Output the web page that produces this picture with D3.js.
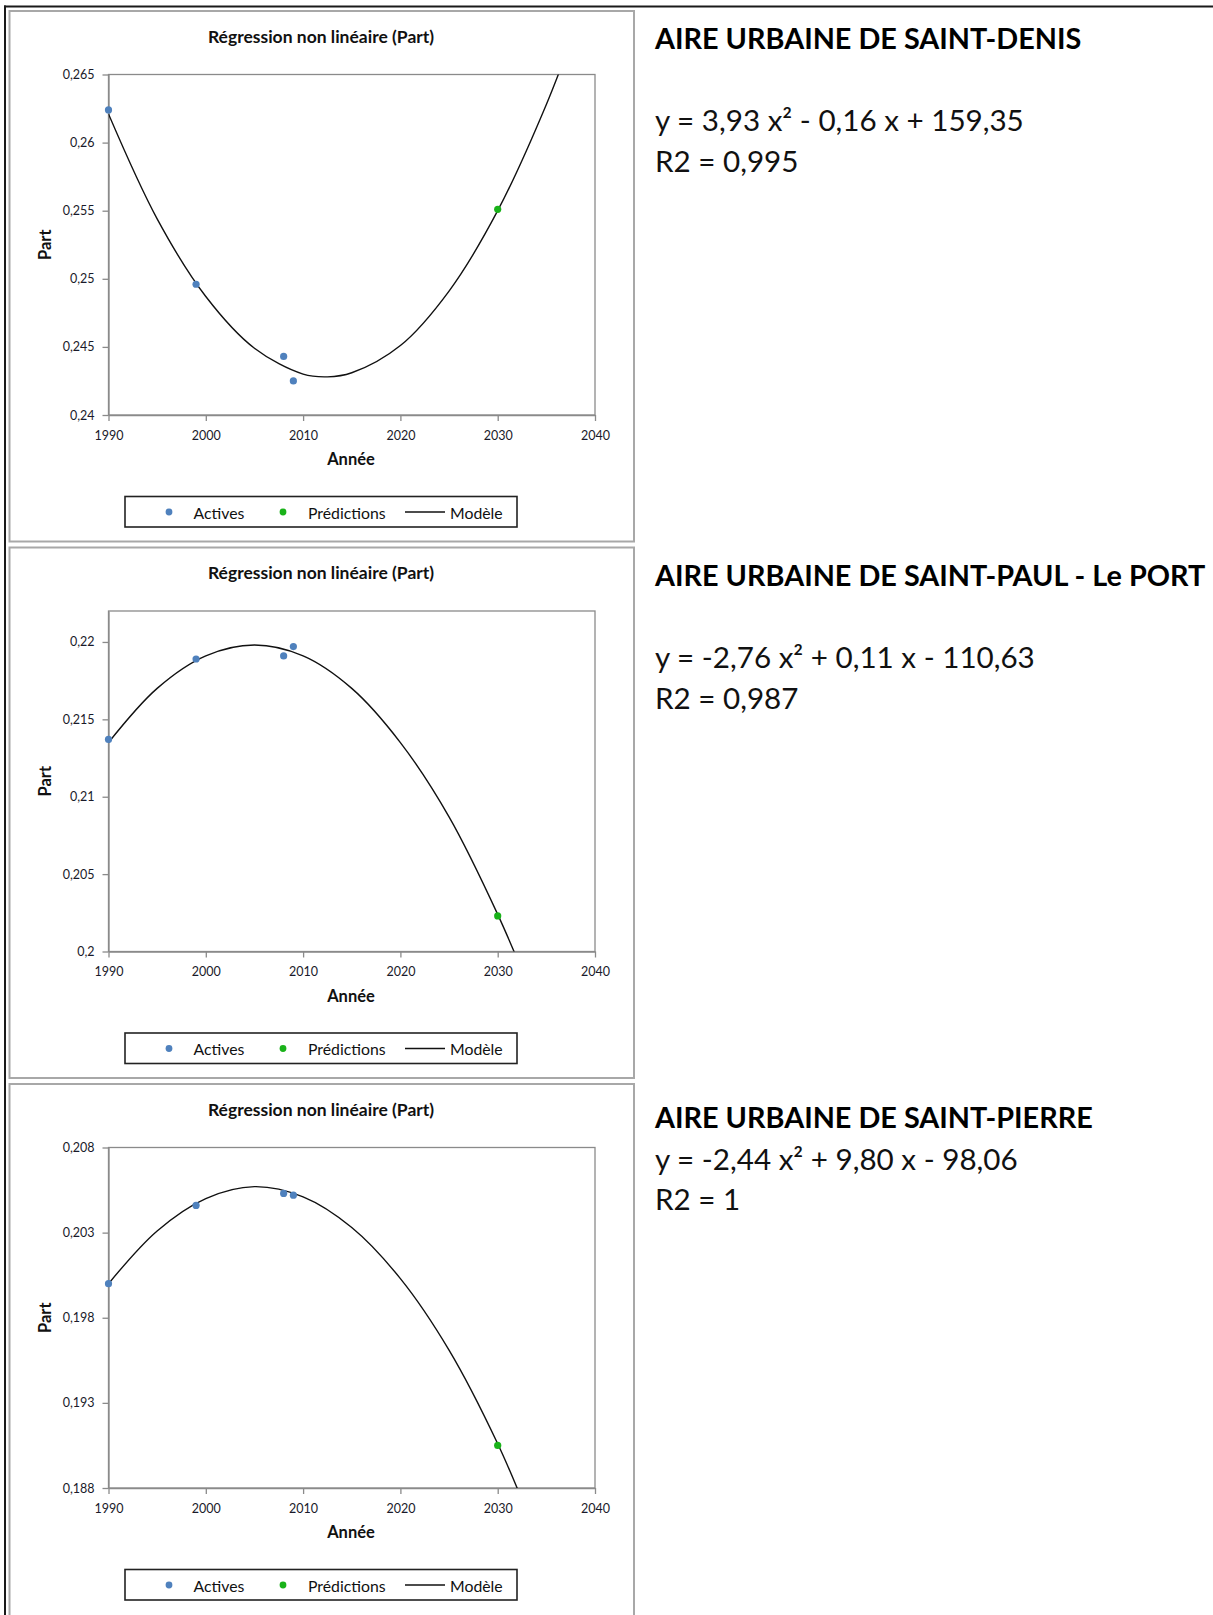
<!DOCTYPE html>
<html>
<head>
<meta charset="utf-8">
<script src="https://cdn.jsdelivr.net/npm/d3@7"></script>
<style>
  html, body { margin: 0; padding: 0; background: #fff; }
  svg { display: block; }
  text { font-family: Lato, "Open Sans", sans-serif; }
</style>
</head>
<body>
<svg id="chart" width="1213" height="1615"></svg>
<script>
// ---------- DATA ----------
const activeYears = [1990, 1999, 2008, 2009];
const predYears = [2030];
const xTickValues = [1990, 2000, 2010, 2020, 2030, 2040];
const xTickLabels = ["1990", "2000", "2010", "2020", "2030", "2040"];

// Saint-Denis
const denisActives = [0.2624, 0.2496, 0.2443, 0.2425];
const denisPred = [0.2551];
const denisModelYears = [1990, 1995, 2000, 2005, 2010, 2012.5, 2015, 2020, 2025, 2030, 2035, 2038];
const denisModel = [0.2621, 0.2544, 0.2487, 0.2449, 0.2430, 0.2428, 0.2431, 0.2451, 0.2491, 0.2550, 0.2628, 0.2684];
const denisYTicks = [0.24, 0.245, 0.25, 0.255, 0.26, 0.265];
const denisYLabels = ["0,24", "0,245", "0,25", "0,255", "0,26", "0,265"];
const denisYDomain = [0.24, 0.265];

// Saint-Paul - Le Port
const paulActives = [0.2137, 0.2189, 0.2191, 0.2197];
const paulPred = [0.2023];
const paulModelYears = [1990, 1995, 2000, 2005, 2010, 2015, 2020, 2025, 2030, 2033];
const paulModel = [0.2135, 0.2170, 0.2191, 0.2198, 0.2191, 0.2170, 0.2135, 0.2087, 0.2024, 0.1980];
const paulYTicks = [0.2, 0.205, 0.21, 0.215, 0.22];
const paulYLabels = ["0,2", "0,205", "0,21", "0,215", "0,22"];
const paulYDomain = [0.2, 0.222];

// Saint-Pierre
const pierreActives = [0.2000, 0.2046, 0.2053, 0.2052];
const pierrePred = [0.1905];
const pierreModelYears = [1990, 1995, 2000, 2005, 2010, 2015, 2020, 2025, 2030, 2033];
const pierreModel = [0.2000, 0.2031, 0.2050, 0.2057, 0.2051, 0.2033, 0.2003, 0.1961, 0.1906, 0.1866];
const pierreYTicks = [0.188, 0.193, 0.198, 0.203, 0.208];
const pierreYLabels = ["0,188", "0,193", "0,198", "0,203", "0,208"];
const pierreYDomain = [0.188, 0.208];

const chartTitle = "Régression non linéaire (Part)";
const xAxisTitle = "Année";
const yAxisTitle = "Part";
const legendLabels = ["Actives", "Prédictions", "Modèle"];

const areaTitles = ["AIRE URBAINE DE SAINT-DENIS", "AIRE URBAINE DE SAINT-PAUL - Le PORT", "AIRE URBAINE DE SAINT-PIERRE"];
const equations = ["y = 3,93 x² - 0,16 x + 159,35", "y = -2,76 x² + 0,11 x - 110,63", "y = -2,44 x² + 9,80 x - 98,06"];
const r2Texts = ["R2 = 0,995", "R2 = 0,987", "R2 = 1"];

// ---------- DRAW ----------
const svg = d3.select("#chart");
const blue = "#4f81bd", green = "#19b219";

// outer frame lines
svg.append("line").attr("x1", 4).attr("x2", 1213).attr("y1", 6.5).attr("y2", 6.5)
  .attr("stroke", "#1a1a1a").attr("stroke-width", 2);
svg.append("line").attr("x1", 5).attr("x2", 5).attr("y1", 5.5).attr("y2", 1615)
  .attr("stroke", "#1a1a1a").attr("stroke-width", 2);

const charts = [
  {actives: denisActives, pred: denisPred, mYears: denisModelYears, model: denisModel,
   ticks: denisYTicks, labels: denisYLabels, domain: denisYDomain},
  {actives: paulActives, pred: paulPred, mYears: paulModelYears, model: paulModel,
   ticks: paulYTicks, labels: paulYLabels, domain: paulYDomain},
  {actives: pierreActives, pred: pierrePred, mYears: pierreModelYears, model: pierreModel,
   ticks: pierreYTicks, labels: pierreYLabels, domain: pierreYDomain}
];

const panelStep = 536.5;
const rightTextY = [[38, 119.5, 160], [575, 656, 697], [1117, 1158, 1198.5]];

charts.forEach((c, i) => {
  const g = svg.append("g").attr("transform", `translate(0,${i * panelStep})`);
  // panel border
  g.append("rect").attr("x", 9.5).attr("y", 11).attr("width", 624.5)
    .attr("height", i === 2 ? 620 : 530.5)
    .attr("fill", "none").attr("stroke", "#a8a8a8").attr("stroke-width", 2);

  const L = 108.5, R = 595, T = 74.5, B = 415;
  const x = d3.scaleLinear().domain([1990, 2040]).range([L, R]);
  const y = d3.scaleLinear().domain(c.domain).range([B, T]);

  // title
  g.append("text").attr("x", 321).attr("y", 36).attr("text-anchor", "middle")
    .attr("dominant-baseline", "central").attr("font-size", 17.5).attr("font-weight", "bold")
    .attr("fill", "#111").text(chartTitle);

  // plot border
  g.append("rect").attr("x", L).attr("y", T).attr("width", R - L).attr("height", B - T)
    .attr("fill", "none").attr("stroke", "#8a8a8a").attr("stroke-width", 1.3);

  // axes
  const yAxis = d3.axisLeft(y).tickValues(c.ticks).tickFormat((d, k) => c.labels[k])
    .tickSize(6).tickSizeOuter(0).tickPadding(8);
  const ya = g.append("g").attr("transform", `translate(${L},0)`).call(yAxis);
  const xAxis = d3.axisBottom(x).tickValues(xTickValues).tickFormat((d, k) => xTickLabels[k])
    .tickSize(6).tickSizeOuter(0).tickPadding(10);
  const xa = g.append("g").attr("transform", `translate(0,${B})`).call(xAxis);
  [ya, xa].forEach(a => {
    a.select(".domain").attr("stroke", "#8a8a8a").attr("stroke-width", 1.3);
    a.selectAll(".tick line").attr("stroke", "#8a8a8a").attr("stroke-width", 1.3);
    a.selectAll(".tick text").attr("font-family", "Lato, 'Open Sans', sans-serif")
      .attr("font-size", 12.5).attr("fill", "#1a1a2a");
  });

  // axis titles
  g.append("text").attr("x", 351).attr("y", 459).attr("text-anchor", "middle")
    .attr("dominant-baseline", "central").attr("font-size", 16.5).attr("font-weight", "bold")
    .attr("fill", "#111").text(xAxisTitle);
  g.append("text").attr("transform", `translate(45,${(T + B) / 2}) rotate(-90)`)
    .attr("text-anchor", "middle").attr("dominant-baseline", "central")
    .attr("font-size", 16.5).attr("font-weight", "bold").attr("fill", "#111").text(yAxisTitle);

  // clip
  const clipId = "clip" + i;
  g.append("clipPath").attr("id", clipId).append("rect")
    .attr("x", L).attr("y", T).attr("width", R - L).attr("height", B - T);

  // model curve
  const line = d3.line().x(d => x(d[0])).y(d => y(d[1])).curve(d3.curveCatmullRom.alpha(0.5));
  g.append("path").datum(c.mYears.map((yr, k) => [yr, c.model[k]]))
    .attr("clip-path", `url(#${clipId})`)
    .attr("d", line).attr("fill", "none").attr("stroke", "#111").attr("stroke-width", 1.4);

  // points
  g.selectAll(".act").data(activeYears.map((yr, k) => [yr, c.actives[k]])).join("circle")
    .attr("cx", d => x(d[0])).attr("cy", d => y(d[1])).attr("r", 3.6).attr("fill", blue);
  g.selectAll(".pred").data(predYears.map((yr, k) => [yr, c.pred[k]])).join("circle")
    .attr("cx", d => x(d[0])).attr("cy", d => y(d[1])).attr("r", 3.6).attr("fill", green);

  // legend
  const lg = g.append("g");
  lg.append("rect").attr("x", 125).attr("y", 496.5).attr("width", 392).attr("height", 30.5)
    .attr("fill", "#fff").attr("stroke", "#222").attr("stroke-width", 1.6);
  const ly = 512;
  lg.append("circle").attr("cx", 169).attr("cy", ly).attr("r", 3.4).attr("fill", blue);
  lg.append("text").attr("x", 193.5).attr("y", ly).attr("dominant-baseline", "central")
    .attr("font-size", 15.8).attr("fill", "#111").text(legendLabels[0]);
  lg.append("circle").attr("cx", 283).attr("cy", ly).attr("r", 3.4).attr("fill", green);
  lg.append("text").attr("x", 308).attr("y", ly).attr("dominant-baseline", "central")
    .attr("font-size", 15.8).attr("fill", "#111").text(legendLabels[1]);
  lg.append("line").attr("x1", 405).attr("x2", 445).attr("y1", ly).attr("y2", ly)
    .attr("stroke", "#111").attr("stroke-width", 1.5);
  lg.append("text").attr("x", 450).attr("y", ly).attr("dominant-baseline", "central")
    .attr("font-size", 15.8).attr("fill", "#111").text(legendLabels[2]);

  // right column texts
  const ty = rightTextY[i];
  svg.append("text").attr("x", 655).attr("y", ty[0]).attr("dominant-baseline", "central")
    .attr("font-size", 28.8).attr("font-weight", "bold").attr("fill", "#000").text(areaTitles[i]);
  svg.append("text").attr("x", 655).attr("y", ty[1]).attr("dominant-baseline", "central")
    .attr("font-size", 29.6).attr("fill", "#111").text(equations[i]);
  svg.append("text").attr("x", 655).attr("y", ty[2]).attr("dominant-baseline", "central")
    .attr("font-size", 29.6).attr("fill", "#111").text(r2Texts[i]);
});
</script>
</body>
</html>
